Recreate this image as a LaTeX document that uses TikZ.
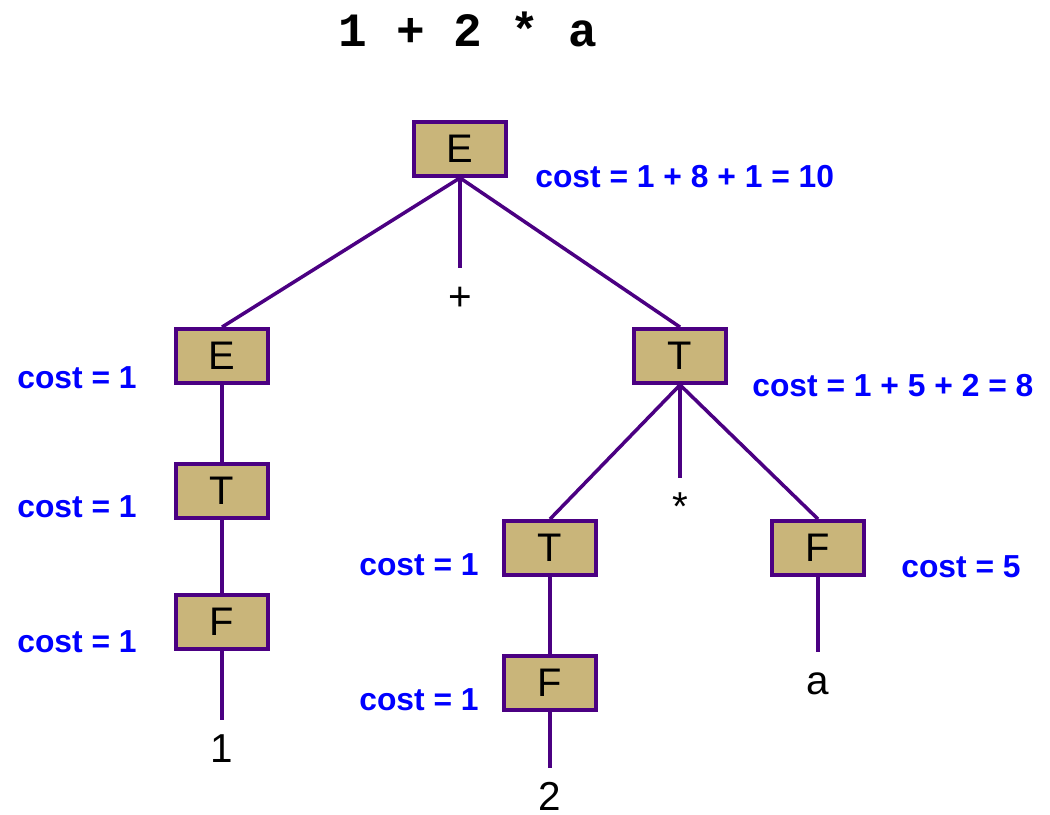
\documentclass[tikz,border=0pt]{standalone}
\usepackage{fontspec}
\setmainfont{Liberation Sans}
\newfontfamily\titlefont{Liberation Mono}
\usetikzlibrary{positioning}

\definecolor{boxfill}{RGB}{201,181,122}
\definecolor{edgecol}{RGB}{75,0,130}
\definecolor{costblue}{RGB}{0,0,255}

\begin{document}
\begin{tikzpicture}[x=0.02cm,y=-0.02cm,
  box/.style={draw=edgecol,fill=boxfill,line width=2.1pt,minimum width=52.6pt,
    minimum height=30.8pt,inner sep=0pt,font=\fontsize{22.7}{24}\selectfont},
  leaf/.style={anchor=base,inner sep=0pt,text height=16.5pt,text depth=0pt,
    font=\fontsize{23}{24}\selectfont},
  cost/.style={anchor=base west,inner sep=0pt,text=costblue,
    font=\bfseries\fontsize{18.1}{20}\selectfont},
  edge/.style={draw=edgecol,line width=2pt}]
\useasboundingbox (0,0) rectangle (1050,814);

\node[anchor=base,font=\titlefont\bfseries\fontsize{27.2}{30}\selectfont] (title) at (468,47) {1 + 2 * a};

\node[box] (E)  at (460,149) {E};
\node[box] (EL) at (222,356) {E};
\node[box] (TL) at (222,491) {T};
\node[box] (FL) at (222,622) {F};
\node[box] (T)  at (680,356) {T};
\node[box] (TT) at (550,548) {T};
\node[box] (FT) at (550,683) {F};
\node[box] (F)  at (818,548) {F};

\node[leaf] (plus)  at (460,310) {+};
\node[leaf] (one)   at (222,762) {1};
\node[leaf] (times) at (680,520) {*};
\node[leaf] (two)   at (550,810) {2};
\node[leaf] (a)     at (818,694) {a};

\node[cost] (cE)  at (535,188) {cost = 1 + 8 + 1 = 10};
\node[cost] (cEL) at (17,388)  {cost = 1};
\node[cost] (cTL) at (17,517)  {cost = 1};
\node[cost] (cFL) at (17,652)  {cost = 1};
\node[cost] (cT)  at (752,396) {cost = 1 + 5 + 2 = 8};
\node[cost] (cTT) at (359,575) {cost = 1};
\node[cost] (cFT) at (359,710) {cost = 1};
\node[cost] (cF)  at (901,577) {cost = 5};

\draw[edge] (E.south) -- (EL.north);
\draw[edge,shorten >=7.4pt] (E.south) -- (plus);
\draw[edge] (E.south) -- (T.north);
\draw[edge] (EL) -- (TL);
\draw[edge] (TL) -- (FL);
\draw[edge,shorten >=7.4pt] (FL.south) -- (one);
\draw[edge] (T.south) -- (TT.north);
\draw[edge,shorten >=7.4pt] (T.south) -- (times);
\draw[edge] (T.south) -- (F.north);
\draw[edge] (TT) -- (FT);
\draw[edge,shorten >=7.4pt] (FT.south) -- (two);
\draw[edge,shorten >=7.4pt] (F.south) -- (a);
\end{tikzpicture}
\end{document}
